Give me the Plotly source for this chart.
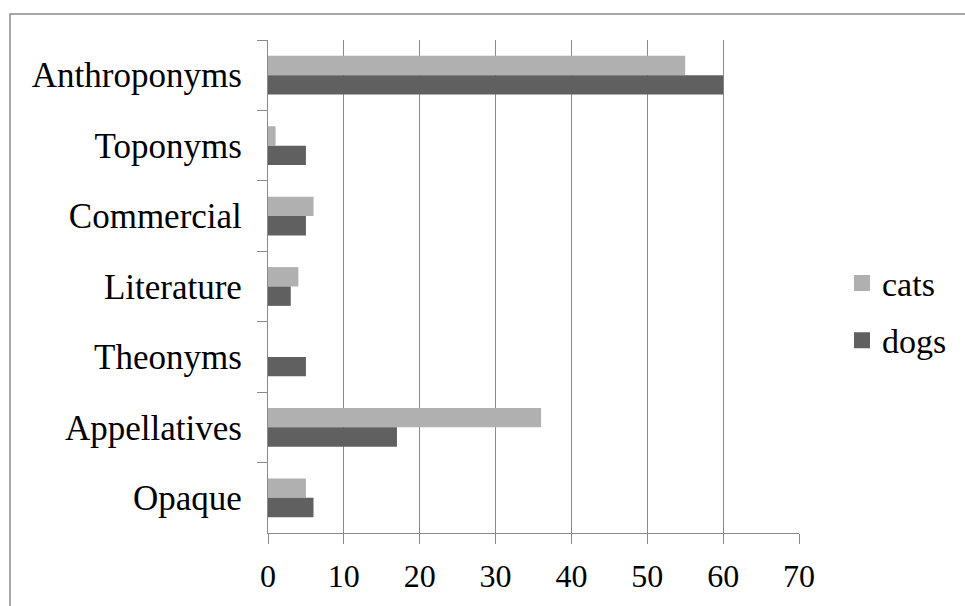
import plotly.graph_objects as go

# Categories of names, top to bottom
categories = ["Anthroponyms", "Toponyms", "Commercial", "Literature",
              "Theonyms", "Appellatives", "Opaque"]
cats = [55, 1, 6, 4, 0, 36, 5]
dogs = [60, 5, 5, 3, 5, 17, 6]
x_ticks = [0, 10, 20, 30, 40, 50, 60, 70]

FONT = "Liberation Serif, Times New Roman, serif"
GRID = "#8a8a8a"
COLORS = {"cats": "#b0b0b0", "dogs": "#606060"}

fig = go.Figure()
for name, vals in (("cats", cats), ("dogs", dogs)):
    fig.add_trace(go.Bar(name=name, y=categories, x=vals, orientation="h",
                         marker=dict(color=COLORS[name], line=dict(width=0)),
                         legendgroup=name, showlegend=False))
# square swatches for the legend
for name in ("cats", "dogs"):
    fig.add_trace(go.Scatter(name=name, x=[None], y=[None], mode="markers",
                             marker=dict(symbol="square", size=16,
                                         color=COLORS[name],
                                         line=dict(width=0)),
                             legendgroup=name, showlegend=True,
                             hoverinfo="skip"))

W, H = 965, 606
L, R, T, B = 268, 799, 40, 535
pw, ph = R - L, B - T

def px_x(p):
    return (p - L) / pw

def px_y(p):
    return (B - p) / ph

fig.update_layout(
    width=W, height=H,
    margin=dict(l=L, r=W - R, t=T, b=H - B, pad=0),
    paper_bgcolor="white", plot_bgcolor="white",
    barmode="group", bargap=0.45, bargroupgap=0,
    font=dict(family=FONT, size=31, color="black"),
    showlegend=True,
    legend=dict(x=px_x(842), xanchor="left", y=px_y(313), yanchor="middle",
                tracegroupgap=10, font=dict(family=FONT, size=34),
                bgcolor="rgba(0,0,0,0)"),
    xaxis=dict(range=[0, 70], tickvals=x_ticks, showgrid=True,
               gridcolor=GRID, gridwidth=1.3, zeroline=False,
               showline=True, linecolor=GRID, linewidth=1.3,
               ticks="outside", ticklen=10, tickcolor=GRID, tickwidth=1.3,
               ticklabelstandoff=4,
               tickfont=dict(family=FONT, size=32), fixedrange=True),
    yaxis=dict(categoryorder="array", categoryarray=categories,
               autorange="reversed", showgrid=False, zeroline=False,
               showline=True, linecolor=GRID, linewidth=1.3,
               ticks="outside", tickson="boundaries", ticklen=10,
               tickcolor=GRID, tickwidth=1.3, ticklabelstandoff=18,
               tickfont=dict(family=FONT, size=35), fixedrange=True),
    shapes=[dict(type="rect", xref="paper", yref="paper",
                 x0=px_x(10), x1=px_x(975), y0=px_y(616), y1=px_y(14),
                 line=dict(color="#8c8c8c", width=1.5),
                 fillcolor="rgba(0,0,0,0)", layer="below")],
)

fig.write_html("out.html")
